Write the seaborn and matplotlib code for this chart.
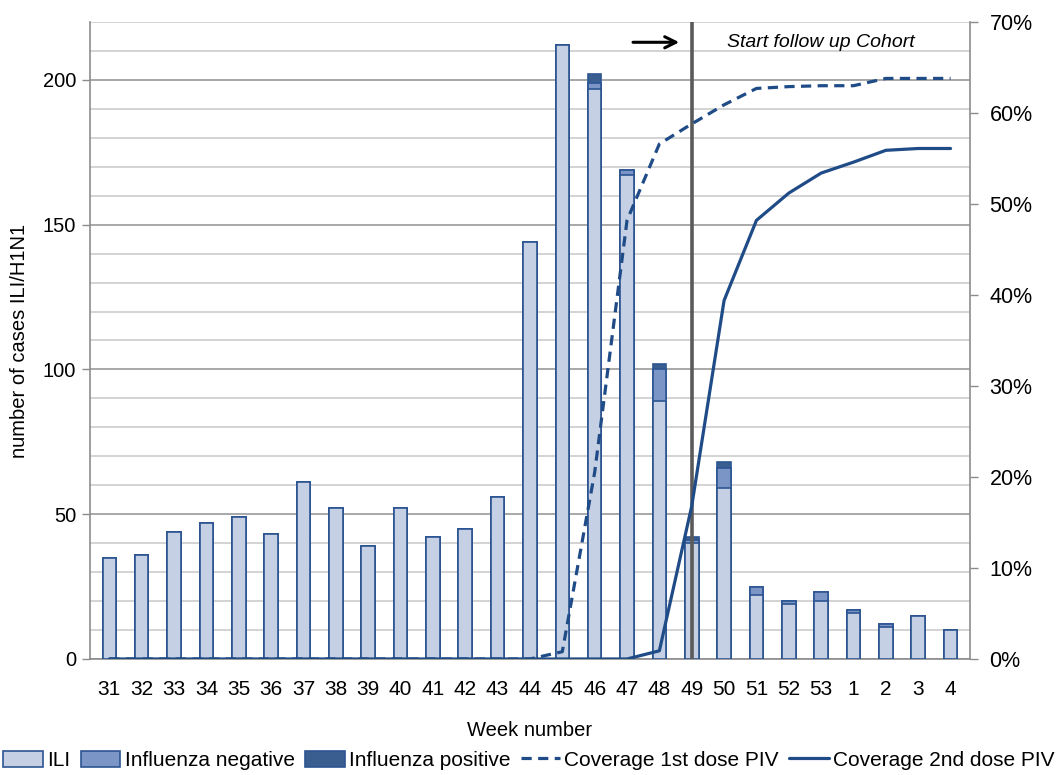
import numpy as np
import pandas as pd
import matplotlib
matplotlib.use('Agg')
import matplotlib.pyplot as plt
import seaborn as sns
from matplotlib.patches import Patch
from matplotlib.lines import Line2D
from matplotlib.ticker import MultipleLocator, FixedLocator

weeks = ['31', '32', '33', '34', '35', '36', '37', '38', '39', '40', '41', '42', '43',
         '44', '45', '46', '47', '48', '49', '50', '51', '52', '53', '1', '2', '3', '4']
ili = [35, 36, 44, 47, 49, 43, 61, 52, 39, 52, 42, 45, 56,
       144, 212, 197, 167, 89, 40, 59, 22, 19, 20, 16, 11, 15, 10]
flu_neg = [0, 0, 0, 0, 0, 0, 0, 0, 0, 0, 0, 0, 0,
           0, 0, 2, 2, 11, 1, 7, 3, 1, 3, 1, 1, 0, 0]
flu_pos = [0, 0, 0, 0, 0, 0, 0, 0, 0, 0, 0, 0, 0,
           0, 0, 3, 0, 2, 1, 2, 0, 0, 0, 0, 0, 0, 0]
cov_dose1 = [0, 0, 0, 0, 0, 0, 0, 0, 0, 0, 0, 0, 0,
             0, 0.8, 20.5, 48.2, 56.6, 58.8, 60.9, 62.7, 62.9, 63.0, 63.0, 63.8, 63.8, 63.8]
cov_dose2 = [0, 0, 0, 0, 0, 0, 0, 0, 0, 0, 0, 0, 0,
             0, 0, 0, 0, 0.9, 16.8, 39.4, 48.2, 51.2, 53.4, 54.6, 55.9, 56.1, 56.1]

df = pd.DataFrame({'week': weeks, 'ili': ili, 'neg': flu_neg, 'pos': flu_pos,
                   'dose1': cov_dose1, 'dose2': cov_dose2})
df['ili_neg'] = df['ili'] + df['neg']
df['total'] = df['ili_neg'] + df['pos']
df['idx'] = np.arange(len(df))

c_ili = '#c6d0e4'
c_neg = '#7b96c6'
c_pos = '#3b5e91'
c_edge = '#2c5592'
c_line = '#1f4b87'

sns.set_style('white')
plt.rcParams['font.family'] = ['Liberation Sans', 'DejaVu Sans']
plt.rcParams['text.color'] = 'black'
plt.rcParams['axes.labelcolor'] = 'black'
plt.rcParams['xtick.color'] = 'black'
plt.rcParams['ytick.color'] = 'black'

fig = plt.figure(figsize=(10.58, 7.75), dpi=100)
ax = fig.add_axes([0.085, 0.1497, 0.8318, 0.8219])

# stacked bars drawn as overlapping cumulative totals
bw = 0.42
sns.barplot(data=df, x='week', y='total', color=c_pos, width=bw, ax=ax,
            edgecolor=c_edge, linewidth=1.2, saturation=1, order=weeks, zorder=3)
sns.barplot(data=df, x='week', y='ili_neg', color=c_neg, width=bw, ax=ax,
            edgecolor=c_edge, linewidth=1.2, saturation=1, order=weeks, zorder=3)
sns.barplot(data=df, x='week', y='ili', color=c_ili, width=bw, ax=ax,
            edgecolor=c_edge, linewidth=1.2, saturation=1, order=weeks, zorder=3)

ax.set_ylim(0, 220)
ax.set_xlim(-0.6, len(weeks) - 0.4)
ax.yaxis.set_major_locator(FixedLocator([0, 50, 100, 150, 200]))
ax.yaxis.set_minor_locator(MultipleLocator(10))
ax.grid(False)
ax.grid(which='minor', axis='y', color='#c8c8c8', lw=1.1, zorder=0)
ax.grid(which='major', axis='y', color='#9a9a9a', lw=1.2, zorder=0)
ax.set_axisbelow(True)
ax.tick_params(axis='y', which='major', length=6, width=1, color='#8c8c8c',
               labelcolor='black', labelsize=14.5, direction='out', pad=4)
ax.tick_params(axis='y', which='minor', length=0)
ax.xaxis.set_minor_locator(FixedLocator(np.arange(-0.5, len(weeks), 1)))
ax.tick_params(axis='x', which='major', length=0, labelsize=15, labelcolor='black', pad=15)
ax.tick_params(axis='x', which='minor', length=6, width=1, color='#8c8c8c', direction='out')
for s in ['left', 'bottom', 'right']:
    ax.spines[s].set_color('#8c8c8c')
    ax.spines[s].set_linewidth(1.2)
ax.spines['top'].set_visible(False)
ax.set_ylabel('number of cases ILI/H1N1', fontsize=14.5, labelpad=10)
ax.set_xlabel('Week number', fontsize=14.5, labelpad=16)

# coverage lines on the right axis
ax2 = ax.twinx()
sns.lineplot(data=df, x='idx', y='dose1', ax=ax2, color=c_line, lw=2.3, zorder=4)
ax2.lines[-1].set_dashes((3.2, 2))
sns.lineplot(data=df, x='idx', y='dose2', ax=ax2, color=c_line, lw=2.3, zorder=4)
ax2.set_ylim(0, 70)
ax2.yaxis.set_major_locator(MultipleLocator(10))
ax2.set_yticklabels([f'{int(v)}%' for v in ax2.get_yticks()])
ax2.tick_params(axis='y', length=6, width=1, color='#8c8c8c', labelcolor='black',
                labelsize=15.5, direction='out', pad=8)
ax2.set_ylabel('')
ax2.set_xlabel('')
for s in ['left', 'bottom', 'right', 'top']:
    ax2.spines[s].set_visible(False)
ax2.set_xlim(ax.get_xlim())

# start of follow up cohort
ax.axvline(weeks.index('49'), color='#5a5a5a', lw=2.6, zorder=5)
ax.annotate('', xy=(17.7, 213), xytext=(16.1, 213),
            arrowprops=dict(arrowstyle='->', color='black', lw=2.2, mutation_scale=20),
            zorder=6)
ax.text(19.1, 213, 'Start follow up Cohort', fontsize=14, style='italic',
        va='center', ha='left', zorder=6)

handles = [
    Patch(facecolor=c_ili, edgecolor=c_edge, lw=1.2, label='ILI'),
    Patch(facecolor=c_neg, edgecolor=c_edge, lw=1.2, label='Influenza negative'),
    Patch(facecolor=c_pos, edgecolor=c_edge, lw=1.2, label='Influenza positive'),
    Line2D([0], [0], color=c_line, lw=2.3, dashes=(3.2, 2), label='Coverage 1st dose PIV'),
    Line2D([0], [0], color=c_line, lw=2.3, label='Coverage 2nd dose PIV'),
]
fig.legend(handles=handles, loc='center', bbox_to_anchor=(0.5, 0.019), ncol=5,
           frameon=False, fontsize=15, handlelength=1.9, handletextpad=0.2,
           columnspacing=0.5, handleheight=0.8)

fig.savefig('out.png', dpi=100)
